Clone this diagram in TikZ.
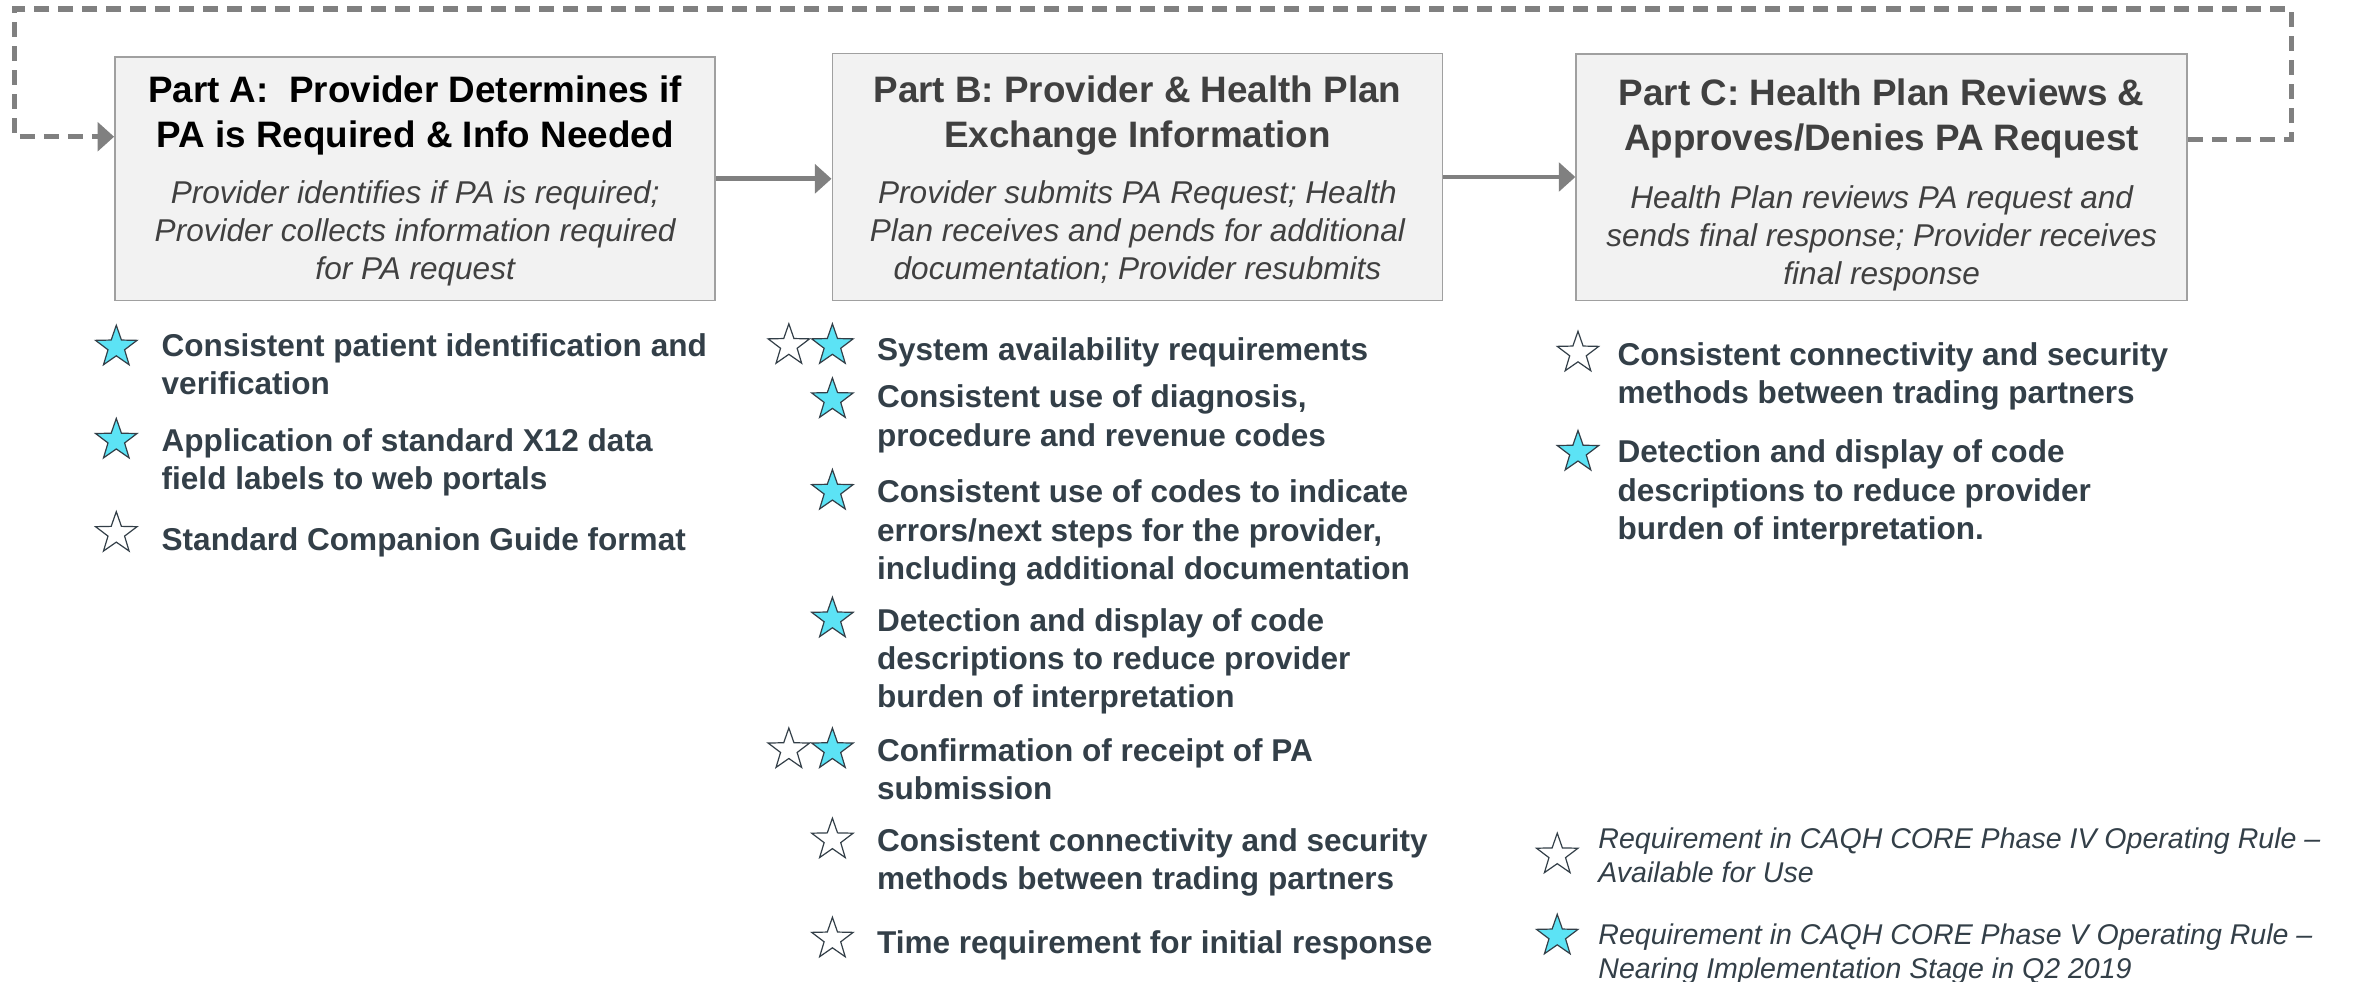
\documentclass[tikz,border=0pt]{standalone}
\usepackage{fontspec}
\setmainfont{Liberation Sans}
\usetikzlibrary{arrows.meta,shapes.geometric}

\definecolor{boxfill}{HTML}{F2F2F2}
\definecolor{boxline}{HTML}{A0A0A0}
\definecolor{flowgray}{HTML}{808080}
\definecolor{headgray}{HTML}{404040}
\definecolor{slate}{HTML}{333F48}
\definecolor{phasefive}{HTML}{5CE3F5}

\begin{document}
\begin{tikzpicture}[x=1pt,y=-1pt]
  \tikzstyle{every node} = [align=left]
  \tikzstyle{part} = [draw=boxline, fill=boxfill, line width=1.2pt, inner sep=0pt]
  \tikzstyle{parttitle} = [anchor=north, align=center, inner sep=0pt, text=headgray,
    font=\bfseries\fontsize{24.5}{30}\selectfont, execute at begin node=\strut]
  \tikzstyle{partsub} = [anchor=north, align=center, inner sep=0pt, text=headgray,
    font=\itshape\fontsize{21}{25.5}\selectfont, execute at begin node=\strut]
  \tikzstyle{req} = [anchor=north west, inner sep=0pt, text=slate,
    font=\bfseries\fontsize{21}{25.5}\selectfont, execute at begin node=\strut]
  \tikzstyle{note} = [anchor=north west, inner sep=0pt, text=slate,
    font=\itshape\fontsize{19}{23}\selectfont, execute at begin node=\strut]
  \tikzstyle{oldstar} = [star, star points=5, star point ratio=2.5, minimum size=29pt,
    inner sep=0pt, draw=slate, line width=0.8pt, fill=white]
  \tikzstyle{newstar} = [oldstar, fill=phasefive]
  \tikzstyle{flow} = [draw=flowgray, line width=3.2pt, -{Triangle[length=11pt,width=19pt]}]
  \tikzstyle{loopback} = [flow, line width=3.4pt, dash pattern=on 10pt off 6pt]

  \useasboundingbox (0,0) rectangle (1568,653);

  % the three parts
  \node[part, minimum width=399.5pt, minimum height=162pt] (boxA) at (276.3,119) {};
  \node[part, minimum width=406pt, minimum height=164.5pt] (boxB) at (757,117.8) {};
  \node[part, minimum width=406.5pt, minimum height=164pt] (boxC) at (1252.3,118) {};

  \node[parttitle, text=black] (titleA) at (276.3,50.5) {Part A:~ Provider Determines if\\PA is Required \& Info Needed};
  \node[partsub] (subA) at (276.3,119.8) {Provider identifies if PA is required;\\Provider collects information required\\for PA request};

  \node[parttitle] (titleB) at (757,50.3) {Part B: Provider \& Health Plan\\Exchange Information};
  \node[partsub] (subB) at (757,119.8) {Provider submits PA Request; Health\\Plan receives and pends for additional\\documentation; Provider resubmits};

  \node[parttitle] (titleC) at (1252.3,52.5) {Part C: Health Plan Reviews \&\\Approves/Denies PA Request};
  \node[partsub] (subC) at (1252.3,123.2) {Health Plan reviews PA request and\\sends final response; Provider receives\\final response};

  \draw[flow] (boxA.east) -- (boxA.east -| boxB.west);
  \draw[flow] (boxB.east) -- (boxB.east -| boxC.west);

  \coordinate (loopNE) at (1525,6);
  \coordinate (loopNW) at (9.5,6);
  \draw[loopback] ([yshift=25pt]boxC.east) -| (loopNE) -- (loopNW) |- ([yshift=28pt]boxA.west);

  % part A requirements
  \node[req] (reqA1) at (107.4,221.6) {Consistent patient identification and\\verification};
  \node[req] (reqA2) at (107.4,285) {Application of standard X12 data\\field labels to web portals};
  \node[req] (reqA3) at (107.4,348) {Standard Companion Guide format};

  % part B requirements
  \node[req] (reqB1) at (583.5,221.6) {System availability requirements};
  \node[req] (reqB2) at (583.5,256) {Consistent use of diagnosis,\\procedure and revenue codes};
  \node[req] (reqB3) at (583.5,319.2) {Consistent use of codes to indicate\\errors/next steps for the provider,\\including additional documentation};
  \node[req] (reqB4) at (583.5,404.6) {Detection and display of code\\descriptions to reduce provider\\burden of interpretation};
  \node[req] (reqB5) at (583.5,491.1) {Confirmation of receipt of PA\\submission};
  \node[req] (reqB6) at (583.5,551) {Consistent connectivity and security\\methods between trading partners};
  \node[req] (reqB7) at (583.5,616.6) {Time requirement for initial response};

  % part C requirements
  \node[req] (reqC1) at (1076.3,227.6) {Consistent connectivity and security\\methods between trading partners};
  \node[req] (reqC2) at (1076.3,292.6) {Detection and display of code\\descriptions to reduce provider\\burden of interpretation.};

  % stars
  \foreach \x/\y [count=\i] in {77.4/231, 77.4/293, 554/230, 554/266, 554/327, 554/412, 554/499, 1050.2/301}
    \node[newstar] (five\i) at (\x,\y) {};
  \foreach \x/\y [count=\i] in {77.4/355, 525/230, 525/499, 554/559, 554/625, 1050.2/235}
    \node[oldstar] (four\i) at (\x,\y) {};

  % legend
  \node[oldstar] (keyFour) at (1036.4,569) {};
  \node[note] (noteFour) at (1063.6,550.5) {Requirement in CAQH CORE Phase IV Operating Rule --\\Available for Use};
  \node[newstar] (keyFive) at (1036.4,623) {};
  \node[note] (noteFive) at (1063.6,614.5) {Requirement in CAQH CORE Phase V Operating Rule --\\Nearing Implementation Stage in Q2 2019};
\end{tikzpicture}
\end{document}
